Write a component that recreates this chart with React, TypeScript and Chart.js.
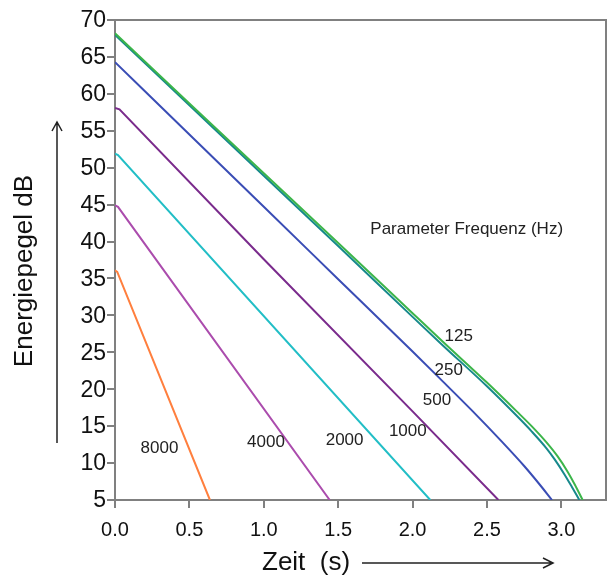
import React, { useEffect, useRef } from "react";
import { Chart, registerables } from "chart.js";

Chart.register(...registerables);

// ---- Data ----
const t125 = [0, 0.5, 1.0, 1.5, 2.0, 2.2, 2.5, 2.7, 2.8, 2.9, 2.975, 3.04, 3.09, 3.143];
const db125 = [68.2, 58.7, 49.25, 39.8, 30.3, 26.5, 20.9, 17.0, 15.0, 12.8, 10.9, 8.9, 7.1, 5];

const t250 = [0, 0.5, 1.0, 1.5, 2.0, 2.2, 2.5, 2.7, 2.8, 2.9, 2.955, 3.02, 3.07, 3.121];
const db250 = [68.0, 58.45, 48.9, 39.4, 29.8, 26.0, 20.4, 16.4, 14.3, 12.0, 10.5, 8.5, 6.8, 5];

const t500 = [0, 0.5, 1.0, 1.5, 2.0, 2.181, 2.4, 2.6, 2.75, 2.85, 2.937];
const db500 = [64.3, 54.5, 44.7, 34.9, 25.1, 21.5, 17.1, 12.9, 9.6, 7.2, 5];

const t1000 = [0, 0.03, 1.0, 2.0, 2.577];
const db1000 = [58.1, 57.9, 37.6, 17.0, 5];

const t2000 = [0, 0.02, 2.119];
const db2000 = [51.9, 51.7, 5];

const t4000 = [0, 0.02, 1.443];
const db4000 = [44.9, 44.7, 5];

const t8000 = [0, 0.015, 0.638];
const db8000 = [36.1, 35.9, 5];

const seriesNames = ["125", "250", "500", "1000", "2000", "4000", "8000"];
const seriesColors = ["#3cb54a", "#17898c", "#3a4db5", "#7a2b8c", "#22bec6", "#ab4cad", "#ff7f3e"];
const seriesSmooth = [true, true, true, false, false, false, false];
const seriesT = [t125, t250, t500, t1000, t2000, t4000, t8000];
const seriesDb = [db125, db250, db500, db1000, db2000, db4000, db8000];

// curve labels (data coordinates of the left edge / vertical middle of each label)
const labelText = ["125", "250", "500", "1000", "2000", "4000", "8000"];
const labelX = [2.215, 2.148, 2.069, 1.841, 1.416, 0.888, 0.172];
const labelY = [27.2, 22.5, 18.45, 14.25, 13.13, 12.77, 12.0];

const annotationText = "Parameter Frequenz (Hz)";
const annotationX = 1.716;
const annotationY = 41.6;

const xTicks = [0, 0.5, 1.0, 1.5, 2.0, 2.5, 3.0];
const xMin = 0;
const xMax = 3.3;
const yMin = 5;
const yMax = 70;
const yStep = 5;

const xTitle = "Zeit  (s)";
const yTitle = "Energiepegel dB";

const FONT = "'Liberation Sans', Arial, Helvetica, sans-serif";
const AXIS_COLOR = "#808080";

const decorPlugin = {
  id: "decor",
  beforeDatasetsDraw(chart: any) {
    const { ctx, chartArea } = chart;
    ctx.save();
    ctx.strokeStyle = AXIS_COLOR;
    ctx.lineWidth = 2;
    ctx.beginPath();
    ctx.moveTo(chartArea.left, chartArea.top);
    ctx.lineTo(chartArea.right, chartArea.top);
    ctx.lineTo(chartArea.right, chartArea.bottom);
    ctx.stroke();
    ctx.restore();
  },
  afterDraw(chart: any) {
    const { ctx, chartArea, scales } = chart;
    const xs = scales.x;
    const ys = scales.y;
    ctx.save();

    // y tick labels (drawn from the y scale's ticks)
    ctx.fillStyle = "#111";
    ctx.font = `23px ${FONT}`;
    ctx.textAlign = "right";
    ctx.textBaseline = "middle";
    for (const tk of ys.ticks) {
      ctx.fillText(String(tk.value), chartArea.left - 9, ys.getPixelForValue(tk.value) + 1);
    }

    // curve labels
    ctx.fillStyle = "#222";
    ctx.font = `17px ${FONT}`;
    ctx.textAlign = "left";
    ctx.textBaseline = "middle";
    for (let i = 0; i < labelText.length; i++) {
      ctx.fillText(labelText[i], xs.getPixelForValue(labelX[i]), ys.getPixelForValue(labelY[i]));
    }
    ctx.fillText(annotationText, xs.getPixelForValue(annotationX), ys.getPixelForValue(annotationY));

    // y axis title (rotated) with arrow
    ctx.fillStyle = "#111";
    ctx.font = `26px ${FONT}`;
    ctx.save();
    ctx.translate(chartArea.left - 90, (chartArea.top + chartArea.bottom) / 2 + 11);
    ctx.rotate(-Math.PI / 2);
    ctx.textAlign = "center";
    ctx.textBaseline = "middle";
    ctx.fillText(yTitle, 0, 0);
    ctx.restore();

    ctx.strokeStyle = "#222";
    ctx.lineWidth = 1.5;
    const ax = chartArea.left - 58;
    const ayTop = chartArea.top + 102;
    const ayBot = chartArea.top + 423;
    ctx.beginPath();
    ctx.moveTo(ax, ayBot);
    ctx.lineTo(ax, ayTop);
    ctx.moveTo(ax - 5, ayTop + 9);
    ctx.lineTo(ax, ayTop);
    ctx.lineTo(ax + 5, ayTop + 9);
    ctx.stroke();

    // x axis title with arrow
    ctx.textAlign = "left";
    ctx.textBaseline = "middle";
    ctx.fillText(xTitle, chartArea.left + 147, chartArea.bottom + 63);
    const bx1 = chartArea.left + 247;
    const bx2 = chartArea.left + 438;
    const by = chartArea.bottom + 63;
    ctx.beginPath();
    ctx.moveTo(bx1, by);
    ctx.lineTo(bx2, by);
    ctx.moveTo(bx2 - 10, by - 5);
    ctx.lineTo(bx2, by);
    ctx.lineTo(bx2 - 10, by + 5);
    ctx.stroke();
    ctx.restore();
  },
};

export default function App() {
  const canvasRef = useRef<HTMLCanvasElement | null>(null);

  useEffect(() => {
    document.body.style.margin = "0";
    const canvas = canvasRef.current;
    if (!canvas) return;

    const datasets = seriesNames.map((name, i) => ({
      label: name,
      data: seriesT[i].map((t, j) => ({ x: t, y: seriesDb[i][j] })),
      borderColor: seriesColors[i],
      backgroundColor: seriesColors[i],
      borderWidth: 2,
      pointRadius: 0,
      tension: seriesSmooth[i] ? 0.4 : 0,
      cubicInterpolationMode: seriesSmooth[i] ? ("monotone" as const) : ("default" as const),
      fill: false,
    }));

    const chart = new Chart(canvas, {
      type: "line",
      data: { datasets },
      options: {
        animation: false,
        responsive: false,
        maintainAspectRatio: false,
        layout: { padding: { top: 20, right: 1, left: 0, bottom: 0 } },
        plugins: {
          legend: { display: false },
          tooltip: { enabled: false },
          title: { display: false },
        },
        scales: {
          x: {
            type: "linear",
            min: xMin,
            max: xMax,
            afterBuildTicks: (scale: any) => {
              scale.ticks = xTicks.map((v) => ({ value: v }));
            },
            afterFit: (scale: any) => {
              scale.height = 76;
            },
            ticks: {
              font: { family: FONT, size: 20 },
              color: "#111",
              padding: 10,
              maxRotation: 0,
              autoSkip: false,
              callback: (v: any) => Number(v).toFixed(1),
            },
            grid: {
              drawOnChartArea: false,
              drawTicks: true,
              tickLength: 8,
              color: AXIS_COLOR,
              lineWidth: 2,
            },
            border: { display: true, color: AXIS_COLOR, width: 2 },
          },
          y: {
            type: "linear",
            min: yMin,
            max: yMax,
            afterFit: (scale: any) => {
              scale.width = 115;
            },
            ticks: {
              stepSize: yStep,
              display: false,
            },
            grid: {
              drawOnChartArea: false,
              drawTicks: true,
              tickLength: 8,
              color: AXIS_COLOR,
              lineWidth: 2,
            },
            border: { display: true, color: AXIS_COLOR, width: 2 },
          },
        },
      },
      plugins: [decorPlugin],
    });

    return () => chart.destroy();
  }, []);

  return (
    <div style={{ width: 607, height: 576, background: "#fff" }}>
      <canvas ref={canvasRef} width={607} height={576} style={{ display: "block" }} />
    </div>
  );
}
